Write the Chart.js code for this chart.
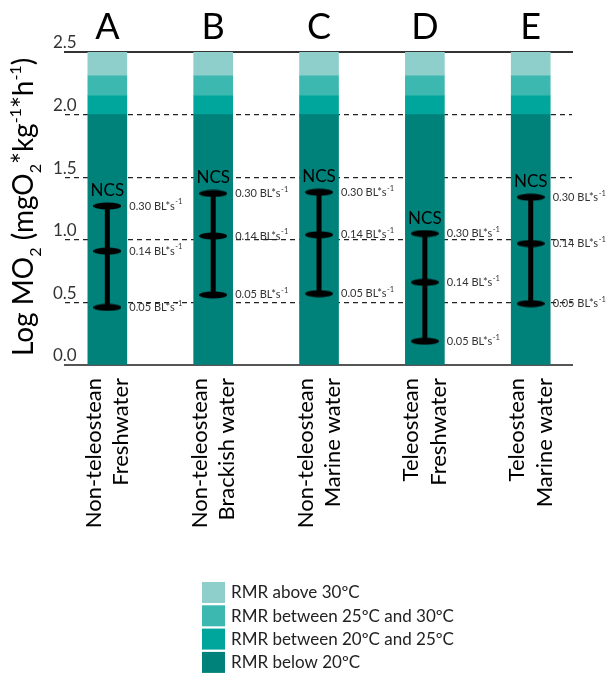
<!DOCTYPE html>
<html>
<head>
<meta charset="utf-8">
<script src="https://cdn.jsdelivr.net/npm/chart.js@4"></script>
<style>
html, body { margin: 0; padding: 0; background: #fff; }
</style>
</head>
<body>
<canvas id="chart" width="608" height="679"></canvas>
<script>
const letters = ['A', 'B', 'C', 'D', 'E'];
const groups = [
  ['Non-teleostean', 'Freshwater'],
  ['Non-teleostean', 'Brackish water'],
  ['Non-teleostean', 'Marine water'],
  ['Teleostean', 'Freshwater'],
  ['Teleostean', 'Marine water']
];
const xs = [1, 2, 3, 4, 5];

// RMR bands (stacked, log MO2)
const rmrBelow20 = [2.0, 2.0, 2.0, 2.0, 2.0];
const rmr20to25 = [0.15, 0.15, 0.15, 0.15, 0.15];
const rmr25to30 = [0.16, 0.16, 0.16, 0.16, 0.16];
const rmrAbove30 = [0.19, 0.19, 0.19, 0.19, 0.19];

// NCS swimming costs at 0.05, 0.14 and 0.30 BL*s-1
const ncsLow = [0.46, 0.56, 0.57, 0.19, 0.49];
const ncsMid = [0.91, 1.03, 1.04, 0.66, 0.97];
const ncsHigh = [1.27, 1.37, 1.38, 1.05, 1.34];
const speeds = ['0.05', '0.14', '0.30'];

const yTicks = [0, 0.5, 1.0, 1.5, 2.0, 2.5];

const FONT = 'Lato';

// elliptical cap used as point style
const cap = document.createElement('canvas');
cap.width = 28;
cap.height = 8;
const cctx = cap.getContext('2d');
cctx.fillStyle = '#000';
cctx.beginPath();
cctx.ellipse(14, 4, 14, 3.5, 0, 0, Math.PI * 2);
cctx.fill();

const ncsPoints = [];
xs.forEach((x, i) => {
  ncsPoints.push({x, y: ncsLow[i]}, {x, y: ncsMid[i]}, {x, y: ncsHigh[i]}, {x, y: null});
});

const toPts = arr => xs.map((x, i) => ({x, y: arr[i]}));

const bandSet = (label, arr, color) => ({
  label,
  data: toPts(arr),
  backgroundColor: color,
  barThickness: 39,
  borderWidth: 0,
  order: 1
});

const extras = {
  id: 'extras',
  afterDatasetsDraw(chart) {
    const {ctx, scales: {x, y}} = chart;
    ctx.save();
    xs.forEach((v, i) => {
      const px = x.getPixelForValue(v);
      ctx.fillStyle = '#000';
      ctx.font = '17px ' + FONT;
      ctx.textAlign = 'center';
      ctx.textBaseline = 'alphabetic';
      ctx.fillText('NCS', px, y.getPixelForValue(ncsHigh[i]) - 10);

      [ncsLow[i], ncsMid[i], ncsHigh[i]].forEach((val, k) => {
        const tx = px + 22;
        const ty = y.getPixelForValue(val);
        ctx.fillStyle = '#333';
        ctx.textAlign = 'left';
        ctx.textBaseline = 'middle';
        ctx.font = '11px ' + FONT;
        const main = speeds[k] + ' BL*s';
        ctx.fillText(main, tx, ty);
        const w = ctx.measureText(main).width;
        ctx.font = '7.5px ' + FONT;
        ctx.fillText('-1', tx + w + 0.5, ty - 4);
      });
    });
    ctx.restore();
  },
  afterDraw(chart) {
    const {ctx} = chart;
    ctx.save();

    // y axis title with sub/superscripts
    const parts = [
      ['Log MO', 0], ['2', 1], [' (mgO', 0], ['2', 1], ['*kg', 0],
      ['-1', 2], ['*h', 0], ['-1', 2], [')', 0]
    ];
    const fontFor = t => (t === 0 ? '28px ' : '16px ') + FONT;
    let total = 0;
    parts.forEach(([s, t]) => { ctx.font = fontFor(t); total += ctx.measureText(s).width; });
    ctx.translate(33, 207);
    ctx.rotate(-Math.PI / 2);
    ctx.fillStyle = '#000';
    ctx.textAlign = 'left';
    ctx.textBaseline = 'alphabetic';
    let cx = -total / 2;
    parts.forEach(([s, t]) => {
      ctx.font = fontFor(t);
      const dy = t === 1 ? 8 : (t === 2 ? -12 : 0);
      ctx.fillText(s, cx, dy);
      cx += ctx.measureText(s).width;
    });
    ctx.setTransform(1, 0, 0, 1, 0, 0);

    // legend, warmest band on top
    const items = chart.data.datasets.filter(d => d.type !== 'line').slice().reverse();
    items.forEach((d, k) => {
      const by = 582 + k * 23.3;
      ctx.fillStyle = d.backgroundColor;
      ctx.fillRect(202, by, 23, 21);
      ctx.fillStyle = '#222';
      ctx.font = '17px ' + FONT;
      ctx.textAlign = 'left';
      ctx.textBaseline = 'middle';
      ctx.fillText(d.label, 231, by + 11);
    });
    ctx.restore();
  }
};

const ctx = document.getElementById('chart').getContext('2d');

const myChart = new Chart(ctx, {
  type: 'bar',
  data: {
    datasets: [
      {
        type: 'line',
        label: 'NCS',
        data: ncsPoints,
        borderColor: '#000',
        backgroundColor: '#000',
        borderWidth: 5,
        pointStyle: cap,
        pointRadius: 14,
        pointHoverRadius: 14,
        spanGaps: false,
        stack: 'ncs',
        order: 0
      },
      bandSet('RMR below 20ºC', rmrBelow20, '#00817a'),
      bandSet('RMR between 20ºC and 25ºC', rmr20to25, '#00a59b'),
      bandSet('RMR between 25ºC and 30ºC', rmr25to30, '#3db8b1'),
      bandSet('RMR above 30ºC', rmrAbove30, '#8ecfcb')
    ]
  },
  options: {
    responsive: false,
    animation: false,
    layout: { padding: { left: 0, right: 36, top: 0, bottom: 0 } },
    plugins: {
      legend: { display: false },
      tooltip: { enabled: false }
    },
    scales: {
      x: {
        type: 'linear',
        position: 'bottom',
        min: 0.6,
        max: 5.39,
        offset: false,
        stacked: true,
        z: 1,
        afterBuildTicks: s => { s.ticks = xs.map(v => ({value: v})); },
        afterFit: s => { s.height = 314; },
        grid: { drawOnChartArea: false, drawTicks: false, offset: false },
        border: { display: true, color: '#555', width: 2 },
        ticks: {
          autoSkip: false,
          minRotation: 90,
          maxRotation: 90,
          padding: 13,
          labelOffset: -13.5,
          color: '#000',
          font: { family: FONT, size: 22, lineHeight: 1.25 },
          callback: (v, i) => groups[i]
        }
      },
      x2: {
        type: 'linear',
        position: 'top',
        min: 0.6,
        max: 5.39,
        offset: false,
        z: 1,
        afterBuildTicks: s => { s.ticks = xs.map(v => ({value: v})); },
        afterFit: s => { s.height = 52; },
        grid: { drawOnChartArea: false, drawTicks: false, offset: false },
        border: { display: true, color: '#333', width: 2 },
        ticks: {
          autoSkip: false,
          maxRotation: 0,
          padding: 3,
          color: '#000',
          font: { family: FONT, size: 36 },
          callback: (v, i) => letters[i]
        }
      },
      y: {
        min: 0,
        max: 2.5,
        stacked: true,
        afterBuildTicks: s => { s.ticks = yTicks.map(v => ({value: v})); },
        afterFit: s => { s.width = 65; },
        grid: {
          drawTicks: false,
          lineWidth: 1.3,
          color: c => (c.tick && (c.tick.value === 0 || c.tick.value === 2.5)) ? 'rgba(0,0,0,0)' : '#222'
        },
        border: { display: false, dash: [5, 4] },
        ticks: {
          mirror: true,
          padding: -12,
          labelOffset: -9,
          color: '#333',
          font: { family: FONT, size: 17 },
          callback: v => v.toFixed(1)
        }
      }
    }
  },
  plugins: [extras]
});
</script>
</body>
</html>
